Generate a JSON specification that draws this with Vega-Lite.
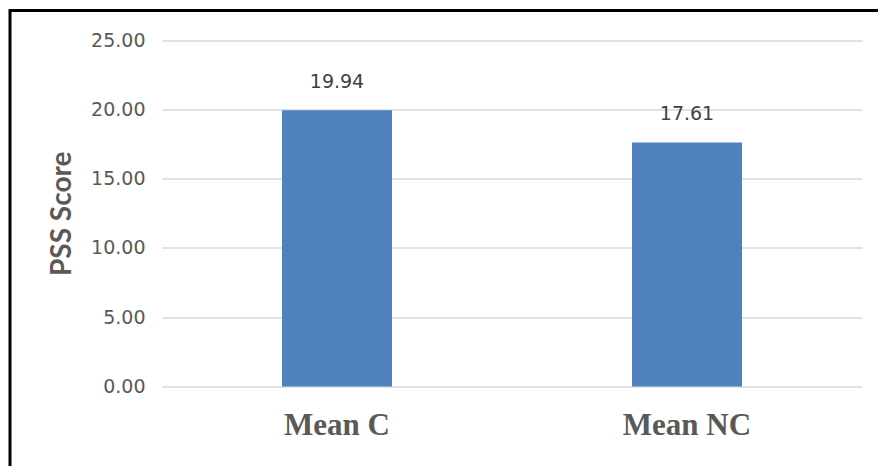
{
  "$schema": "https://vega.github.io/schema/vega-lite/v6.json",
  "autosize": "none",
  "width": 871,
  "height": 458.5,
  "padding": {"left": 10, "top": 10.5, "right": -3, "bottom": -3},
  "background": "white",
  "config": {
    "view": {"stroke": "#000000", "strokeWidth": 3}
  },
  "data": {
    "values": [
      {"group": "Mean C", "score": 19.94},
      {"group": "Mean NC", "score": 17.61}
    ]
  },
  "encoding": {
    "x": {
      "field": "group",
      "type": "nominal",
      "sort": null,
      "scale": {"range": [152, 852], "paddingInner": 0.6857, "paddingOuter": 0.3429},
      "axis": {
        "orient": "bottom",
        "offset": -82.5,
        "title": null,
        "domain": false,
        "ticks": false,
        "grid": false,
        "labelAngle": 0,
        "labelFont": "Liberation Serif",
        "labelFontWeight": "bold",
        "labelFontSize": 31,
        "labelColor": "#595959",
        "labelPadding": 24
      }
    },
    "y": {
      "field": "score",
      "type": "quantitative",
      "scale": {"domain": [0, 25], "range": [376, 29.5], "nice": false, "zero": true},
      "axis": {
        "offset": -152,
        "values": [0, 5, 10, 15, 20, 25],
        "format": ".2f",
        "domain": false,
        "ticks": false,
        "grid": true,
        "gridColor": "#d9d9d9",
        "gridWidth": 1.5,
        "labelPadding": 17,
        "labelFont": "DejaVu Sans",
        "labelFontSize": 19,
        "labelColor": "#595959",
        "title": "PSS Score",
        "titleFont": "Lato",
        "titleFontWeight": "bold",
        "titleFontSize": 28,
        "titleColor": "#595959",
        "titlePadding": 14
      }
    }
  },
  "layer": [
    {"mark": {"type": "bar", "color": "#4F81BD"}},
    {
      "mark": {
        "type": "text",
        "baseline": "alphabetic",
        "dy": -22,
        "font": "DejaVu Sans",
        "fontSize": 19,
        "color": "#404040"
      },
      "encoding": {"text": {"field": "score", "type": "quantitative", "format": ".2f"}}
    }
  ]
}
